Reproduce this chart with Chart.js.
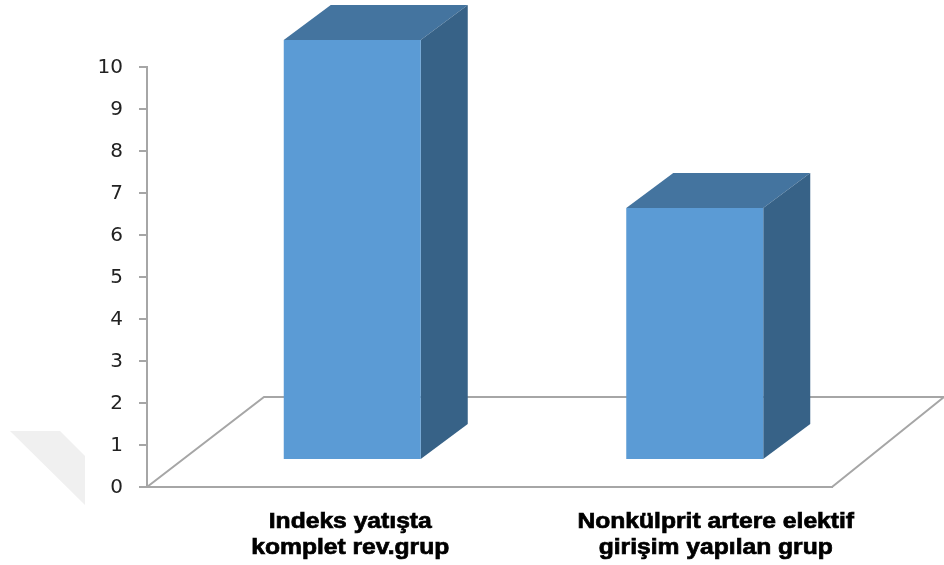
<!DOCTYPE html>
<html>
<head>
<meta charset="utf-8">
<style>
html, body { margin: 0; padding: 0; background: #fff; }
#wrap { position: relative; width: 944px; height: 565px; overflow: hidden; }
#mark { position: absolute; left: 0; top: 0; width: 944px; height: 565px; background: #f0f0f0;
  clip-path: polygon(10px 431px, 60px 431px, 85px 456px, 85px 505px); }
canvas { position: absolute; left: 0; top: 0; }
</style>
<script src="https://cdn.jsdelivr.net/npm/chart.js@4"></script>
</head>
<body>
<div id="wrap">
<div id="mark"></div>
<canvas id="barChart" width="944" height="565"></canvas>
</div>
<script>
const categories = [
    ['Indeks yatışta', 'komplet rev.grup'],
    ['Nonkülprit artere elektif', 'girişim yapılan grup']
];
const values = [10, 6];
const yTicks = [0, 1, 2, 3, 4, 5, 6, 7, 8, 9, 10];

// the old 3D look: bars sit shifted back on a floor, labels are not under the ticks
const barShift = { x: 34, y: -27 };
const barDepth = { x: 47, y: -35 };
const labelShift = [32, 55];

const fake3d = {
    id: 'fake3d',
    beforeDatasetsDraw(chart) {
        const c = chart.ctx;
        const a = chart.chartArea;
        c.save();
        c.strokeStyle = '#a6a6a6';
        c.lineWidth = 2;
        c.beginPath();
        c.moveTo(a.left, a.bottom);
        c.lineTo(a.left + 117, a.bottom - 90);
        c.lineTo(a.right + 112, a.bottom - 90);
        c.lineTo(a.right, a.bottom);
        c.stroke();
        c.restore();

        c.save();
        c.translate(barShift.x, barShift.y);
        chart.getDatasetMeta(0).data.forEach(bar => {
            const l = bar.x - bar.width / 2;
            const r = bar.x + bar.width / 2;
            c.fillStyle = '#44749f';
            c.beginPath();
            c.moveTo(l, bar.y);
            c.lineTo(l + barDepth.x, bar.y + barDepth.y);
            c.lineTo(r + barDepth.x, bar.y + barDepth.y);
            c.lineTo(r, bar.y);
            c.fill();
            c.fillStyle = '#376287';
            c.beginPath();
            c.moveTo(r, bar.y);
            c.lineTo(r + barDepth.x, bar.y + barDepth.y);
            c.lineTo(r + barDepth.x, bar.base + barDepth.y);
            c.lineTo(r, bar.base);
            c.fill();
        });
    },
    afterDatasetsDraw(chart) {
        const c = chart.ctx;
        c.restore();

        c.save();
        c.fillStyle = '#000';
        c.strokeStyle = '#000';
        c.lineWidth = 0.7;
        c.font = 'bold 22px "Liberation Sans"';
        c.textAlign = 'center';
        c.textBaseline = 'middle';
        categories.forEach((lines, i) => {
            const x = chart.scales.x.getPixelForValue(i) + labelShift[i];
            lines.forEach((line, j) => {
                // reference text is stretched sideways
                c.save();
                c.translate(x, 522 + j * 26);
                c.scale(1.12, 1);
                c.fillText(line, 0, 0);
                c.strokeText(line, 0, 0);
                c.restore();
            });
        });
        c.restore();
    }
};

new Chart(document.getElementById('barChart').getContext('2d'), {
    type: 'bar',
    plugins: [fake3d],
    data: {
        labels: categories,
        datasets: [{
            data: values,
            backgroundColor: '#5b9bd5',
            borderWidth: 0,
            barPercentage: 0.4,
            categoryPercentage: 1,
            clip: false
        }]
    },
    options: {
        responsive: false,
        animation: false,
        layout: { padding: { top: 67, right: 112, bottom: 0, left: 0 } },
        plugins: {
            legend: { display: false },
            title: { display: false },
            tooltip: { enabled: false }
        },
        scales: {
            x: {
                afterFit(scale) { scale.height = 78; },
                grid: { display: false },
                border: { color: '#a6a6a6', width: 2 },
                ticks: { display: false }
            },
            y: {
                min: 0,
                max: 10,
                afterFit(scale) { scale.width = 147; },
                afterBuildTicks(scale) { scale.ticks = yTicks.map(v => ({ value: v })); },
                grid: { drawOnChartArea: false, color: '#a6a6a6', lineWidth: 2, tickLength: 8 },
                border: { color: '#a6a6a6', width: 2 },
                ticks: {
                    color: '#222',
                    padding: 16,
                    labelOffset: 1,
                    font: { family: 'DejaVu Sans', size: 20 }
                }
            }
        }
    }
});
</script>
</body>
</html>
